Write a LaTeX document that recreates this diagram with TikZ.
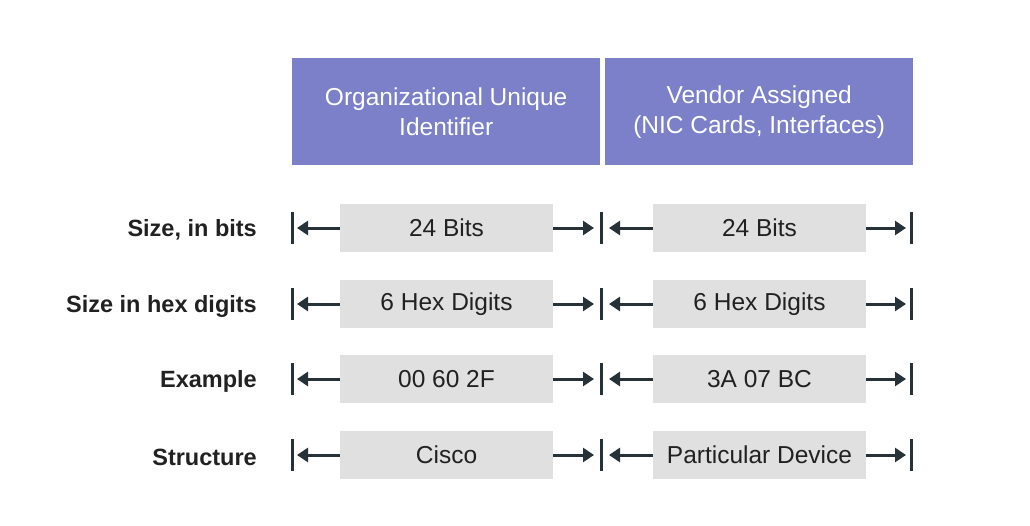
\documentclass[tikz,border=0pt]{standalone}
\usepackage{fontspec}
\setmainfont{Liberation Sans}
\usetikzlibrary{arrows.meta}
\definecolor{hdr}{RGB}{123,128,200}
\definecolor{cell}{RGB}{224,224,224}
\definecolor{ink}{RGB}{38,50,56}
\definecolor{txt}{RGB}{33,33,33}
\begin{document}
\begin{tikzpicture}[x=1pt,y=-1pt,
  hdrbox/.style={fill=hdr,draw=none,minimum width=308pt,minimum height=107pt,anchor=north west,inner sep=0pt,align=center,text=white,font=\fontsize{24.5}{30}\selectfont},
  cellbox/.style={fill=cell,draw=none,minimum width=213pt,minimum height=48pt,inner sep=0pt,text=txt,font=\fontsize{24.5}{28}\selectfont},
  rowlabel/.style={anchor=east,text=txt,font=\bfseries\fontsize{23.5}{28}\selectfont,inner sep=0pt},
  bar/.style={draw=ink,line width=3pt},
  arr/.style={draw=ink,line width=3pt,-{Triangle[length=11pt,width=14pt]}}]
\useasboundingbox (0,0) rectangle (1030,525);
\node[hdrbox] (h1) at (292,58) {Organizational Unique\\Identifier};
\node[hdrbox] (h2) at (605,58) {Vendor Assigned\\(NIC Cards, Interfaces)};
\foreach \i/\y/\lab/\a/\b in {1/228/{Size, in bits}/{24 Bits}/{24 Bits},
                              2/304/{Size in hex digits}/{6 Hex Digits}/{6 Hex Digits},
                              3/379/{Example}/{00 60 2F}/{3A 07 BC},
                              4/455/{Structure}/{Cisco}/{Particular Device}}{
  \node[rowlabel] (l\i) at (257,\y+2) {\lab};
  \node[cellbox] (a\i) at (446.5,\y) {\a};
  \node[cellbox] (b\i) at (759.5,\y) {\b};
  \coordinate (p\i) at (292,\y);
  \coordinate (q\i) at (601,\y);
  \coordinate (r\i) at (911,\y);
  \draw[bar] ([yshift=-16pt]p\i) -- ([yshift=16pt]p\i);
  \draw[bar] ([yshift=-16pt]q\i) -- ([yshift=16pt]q\i);
  \draw[bar] ([yshift=-16pt]r\i) -- ([yshift=16pt]r\i);
  \draw[arr] (a\i.west) -- ([xshift=5pt]p\i);
  \draw[arr] (a\i.east) -- ([xshift=-7pt]q\i);
  \draw[arr] (b\i.west) -- ([xshift=8pt]q\i);
  \draw[arr] (b\i.east) -- ([xshift=-5pt]r\i);
}
\end{tikzpicture}
\end{document}
